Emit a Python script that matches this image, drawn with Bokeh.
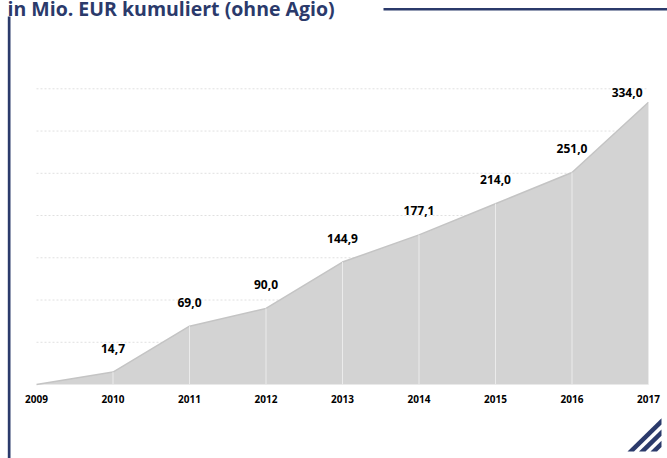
from bokeh.plotting import figure
from bokeh.models import ColumnDataSource, FixedTicker, Label, BoxAnnotation, PolyAnnotation
from bokeh.core.properties import value
from bokeh.embed import file_html
from bokeh.resources import INLINE

# ---- data ----
years = [2009, 2010, 2011, 2012, 2013, 2014, 2015, 2016, 2017]
values = [0.0, 14.7, 69.0, 90.0, 144.9, 177.1, 214.0, 251.0, 334.0]
tick_labels = ["2009", "2010", "2011", "2012", "2013", "2014", "2015", "2016", "2017"]
grid_ticks = [50, 100, 150, 200, 250, 300, 350]
title_text = "in Mio. EUR kumuliert (ohne Agio)"

value_labels = [f"{v:.1f}".replace(".", ",") for v in values]

NAVY = "#2b3a6b"
FONT = "Open Sans"

# ---- layout: the frame covers the whole canvas ----
W, H = 667, 458
X_FIRST, X_LAST = 36, 648        # pixel of first / last year
Y_ZERO, Y_TOP = 384, 88.3        # pixel of 0 and of the top grid value
ppx = (X_LAST - X_FIRST) / (years[-1] - years[0])
ppy = (Y_ZERO - Y_TOP) / grid_ticks[-1]
x_range = (years[0] - X_FIRST / ppx, years[-1] + (W - X_LAST) / ppx)
y_range = (-(H - Y_ZERO) / ppy, grid_ticks[-1] + Y_TOP / ppy)

p = figure(width=W, height=H, x_range=x_range, y_range=y_range,
           output_backend="svg", toolbar_location=None,
           min_border_left=0, min_border_right=0, min_border_top=0, min_border_bottom=0)
p.outline_line_color = None
p.background_fill_color = "white"
p.border_fill_color = "white"

# axes
p.yaxis.visible = False
p.xaxis.fixed_location = 0
p.xaxis.ticker = FixedTicker(ticks=years)
p.xaxis.major_label_overrides = {y: t for y, t in zip(years, tick_labels)}
p.xaxis.axis_line_color = None
p.xaxis.major_tick_line_color = None
p.xaxis.minor_tick_line_color = None
p.xaxis.major_label_standoff = 4
p.xaxis.major_label_text_font = FONT
p.xaxis.major_label_text_font_style = "bold"
p.xaxis.major_label_text_font_size = "10px"
p.xaxis.major_label_text_color = "black"

p.xgrid.visible = False
p.ygrid.visible = False

# dashed horizontal grid lines between first and last year
grid_src = ColumnDataSource(dict(x0=[years[0]] * len(grid_ticks), x1=[years[-1]] * len(grid_ticks),
                                 y=grid_ticks))
p.segment(x0="x0", y0="y", x1="x1", y1="y", source=grid_src, line_color="#e0e0e0",
          line_dash="2 2", line_width=1)

src = ColumnDataSource(dict(x=years, y=values, lab=value_labels, zero=[0.0] * len(years)))
p.varea(x="x", y1="zero", y2="y", source=src, fill_color="#d3d3d3")
p.line(x="x", y="y", source=src, line_color="#c4c4c4", line_width=1.5)
p.segment(x0="x", y0="zero", x1="x", y1="y", source=src, line_color="#ebebeb", line_width=1)

mid = ColumnDataSource(dict(x=years[1:-1], y=values[1:-1], lab=value_labels[1:-1]))
last = ColumnDataSource(dict(x=years[-1:], y=values[-1:], lab=value_labels[-1:]))
p.text(x="x", y="y", text="lab", source=mid, text_font=value(FONT), text_font_style="bold",
       text_font_size="12px", text_align="center", text_baseline="middle", y_offset=-24,
       text_color="black")
p.text(x="x", y="y", text="lab", source=last, text_font=value(FONT), text_font_style="bold",
       text_font_size="12px", text_align="right", text_baseline="middle", y_offset=-10,
       x_offset=-6, text_color="black")

# ---- decorations (screen units: x from left, y from bottom) ----
def sy(Y):
    return H - Y

p.add_layout(Label(x=7, y=sy(8), x_units="screen", y_units="screen", text=title_text,
                   text_font=FONT, text_font_style="bold", text_font_size="19.5px",
                   text_color=NAVY, text_baseline="alphabetic"))
p.add_layout(BoxAnnotation(left=383, right=W, top=sy(7.5), bottom=sy(10),
                           left_units="screen", right_units="screen", top_units="screen",
                           bottom_units="screen", fill_color=NAVY, fill_alpha=1, line_color=None))
p.add_layout(BoxAnnotation(left=7.3, right=10, top=sy(16), bottom=0,
                           left_units="screen", right_units="screen", top_units="screen",
                           bottom_units="screen", fill_color=NAVY, fill_alpha=1, line_color=None))
for k in range(3):
    bx = 627 + 11.5 * k
    xs = [bx, bx + 6.5, 661, 661]
    ys = [451, 451, 451 - (661 - bx - 6.5) * 0.98, 451 - (661 - bx) * 0.98]
    p.add_layout(PolyAnnotation(xs=xs, ys=[sy(v) for v in ys],
                                xs_units="screen", ys_units="screen",
                                fill_color=NAVY, fill_alpha=1, line_color=None))

open("out.html", "w").write(file_html(p, INLINE))
